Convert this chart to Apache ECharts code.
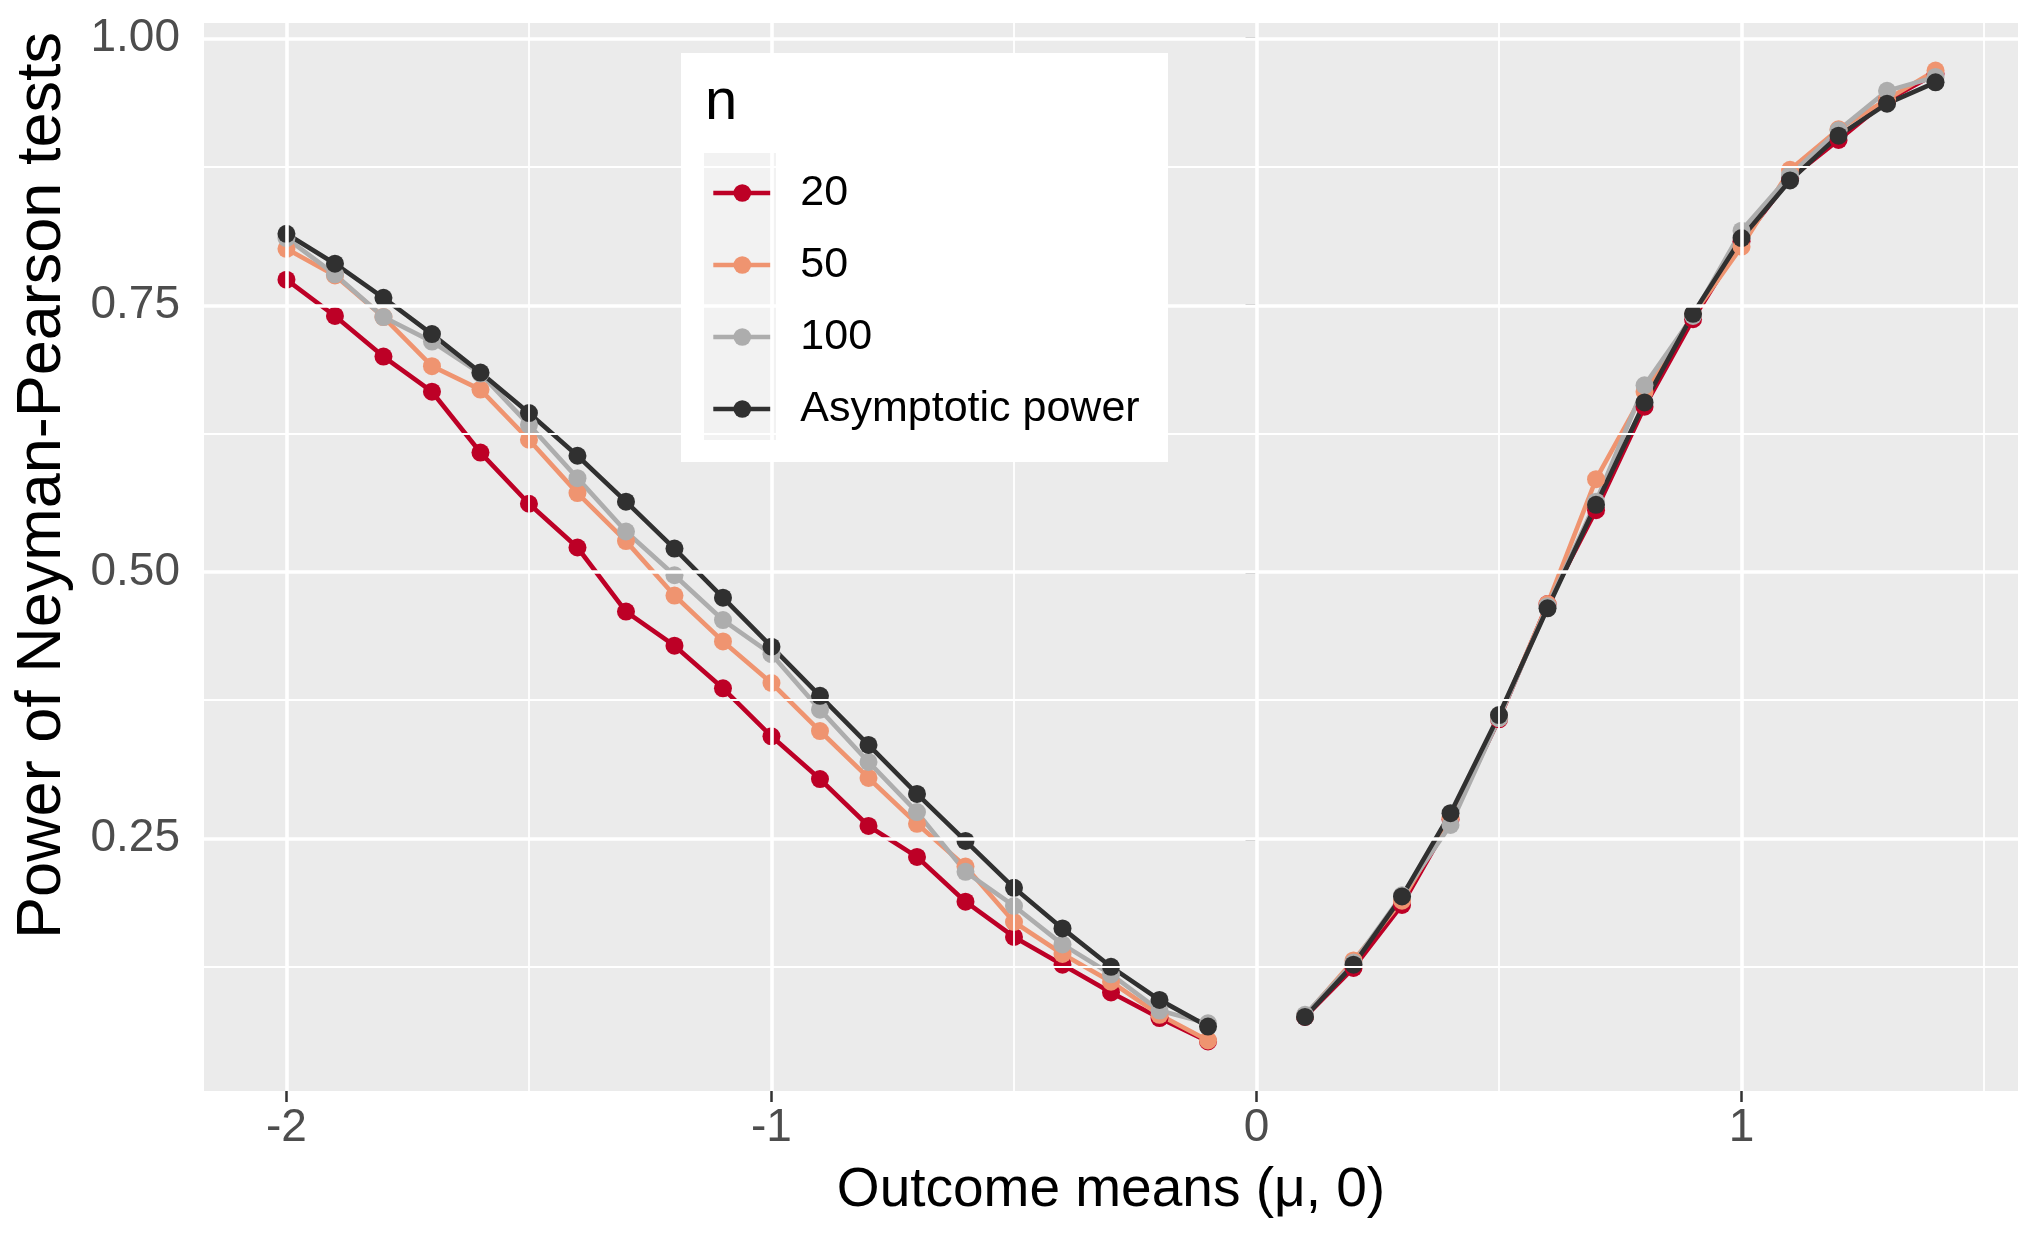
<!DOCTYPE html>
<html>
<head>
<meta charset="utf-8">
<script src="https://cdn.jsdelivr.net/npm/echarts@6/dist/echarts.min.js"></script>
<style>
  html, body { margin: 0; padding: 0; background: #fff; }
  #chart { width: 2031px; height: 1255px; }
</style>
</head>
<body>
<div id="chart"></div>
<script>
"use strict";

// x positions (outcome mean mu); the gap at 0 is kept as a break in each line
var mu = [-2, -1.9, -1.8, -1.7, -1.6, -1.5, -1.4, -1.3, -1.2, -1.1,
  -1, -0.9, -0.8, -0.7, -0.6, -0.5, -0.4, -0.3, -0.2, -0.1,
  0.1, 0.2, 0.3, 0.4, 0.5, 0.6, 0.7, 0.8, 0.9, 1, 1.1, 1.2, 1.3, 1.4];

var power20 = [0.774, 0.740, 0.702, 0.669, 0.612, 0.564, 0.523, 0.463, 0.431, 0.391,
  0.346, 0.306, 0.262, 0.233, 0.191, 0.158, 0.132, 0.106, 0.082, 0.060,
  0.083, 0.129, 0.188, 0.268, 0.362, 0.470, 0.558, 0.655, 0.737, 0.810, 0.869, 0.905, 0.942, 0.967];

var power50 = [0.803, 0.778, 0.739, 0.693, 0.671, 0.624, 0.574, 0.529, 0.478, 0.435,
  0.396, 0.351, 0.307, 0.264, 0.224, 0.172, 0.142, 0.116, 0.085, 0.061,
  0.084, 0.136, 0.192, 0.270, 0.363, 0.470, 0.587, 0.669, 0.741, 0.805, 0.877, 0.915, 0.943, 0.970];

var power100 = [0.813, 0.779, 0.739, 0.716, 0.686, 0.638, 0.588, 0.538, 0.497, 0.455,
  0.423, 0.371, 0.322, 0.275, 0.219, 0.187, 0.151, 0.123, 0.089, 0.077,
  0.085, 0.134, 0.197, 0.263, 0.363, 0.468, 0.566, 0.675, 0.740, 0.820, 0.872, 0.914, 0.951, 0.964];

var powerAsym = [0.817, 0.789, 0.757, 0.723, 0.687, 0.649, 0.609, 0.566, 0.522, 0.476,
  0.430, 0.384, 0.338, 0.292, 0.248, 0.204, 0.166, 0.130, 0.099, 0.074,
  0.083, 0.132, 0.196, 0.274, 0.366, 0.466, 0.563, 0.659, 0.742, 0.813, 0.867, 0.909, 0.939, 0.959];

var seriesNames = ["20", "50", "100", "Asymptotic power"];
var seriesColors = ["#BD0026", "#EF9470", "#ADADAD", "#303030"];

var xTicks = [-2, -1, 0, 1];
var xMinor = [-1.5, -0.5, 0.5, 1.5];
var yTicks = [0.25, 0.5, 0.75, 1.0];
var yMinor = [0.125, 0.375, 0.625, 0.875];

var FONT = "'Liberation Sans', Arial, Helvetica, sans-serif";

//pair up mu with values and break the line at mu = 0
function toPairs(vals) {
  var out = [];
  for (var i = 0; i < mu.length; i++) {
    if (i > 0 && mu[i - 1] < 0 && mu[i] > 0) {
      out.push([0, "-"]);
    }
    out.push([mu[i], vals[i]]);
  }
  return out;
}

var allPower = [power20, power50, power100, powerAsym];

//white panel grid, major and minor
var gridLines = [];
xTicks.forEach(function (v) {
  gridLines.push({ xAxis: v, lineStyle: { width: 3.6 } });
});
xMinor.forEach(function (v) {
  gridLines.push({ xAxis: v, lineStyle: { width: 1.8 } });
});
yTicks.forEach(function (v) {
  gridLines.push({ yAxis: v, lineStyle: { width: 3.6 } });
});
yMinor.forEach(function (v) {
  gridLines.push({ yAxis: v, lineStyle: { width: 1.8 } });
});

var series = [
  {
    type: "line",
    z: 1,
    silent: true,
    data: [],
    markLine: {
      silent: true,
      symbol: "none",
      label: { show: false },
      lineStyle: { color: "#ffffff", type: "solid" },
      emphasis: { disabled: true },
      data: gridLines,
      animation: false,
    },
  },
];

allPower.forEach(function (vals, k) {
  series.push({
    name: seriesNames[k],
    type: "line",
    z: 3,
    data: toPairs(vals),
    connectNulls: false,
    symbol: "circle",
    symbolSize: 18,
    showAllSymbol: true,
    lineStyle: { color: seriesColors[k], width: 4.6 },
    itemStyle: { color: seriesColors[k] },
    emphasis: { disabled: true },
  });
});

var chart = echarts.init(document.getElementById("chart"));

var option = {
  animation: false,
  backgroundColor: "#ffffff",
  textStyle: { fontFamily: FONT },
  grid: {
    left: 204,
    right: 13,
    top: 23,
    bottom: 164,
    outerBoundsMode: "none",
    containLabel: false,
    show: true,
    backgroundColor: "#EBEBEB",
    borderWidth: 0,
  },
  xAxis: {
    type: "value",
    min: -2.17,
    max: 1.57,
    name: "Outcome means (\u03bc, 0)",
    nameLocation: "middle",
    nameGap: 72,
    nameTextStyle: { fontSize: 55, color: "#000000", fontFamily: FONT },
    axisLine: { show: false },
    splitLine: { show: false },
    axisTick: {
      show: true,
      length: 11,
      customValues: xTicks,
      lineStyle: { color: "#333333", width: 2.5 },
    },
    axisLabel: {
      customValues: xTicks,
      fontSize: 46,
      color: "#4D4D4D",
      margin: 14,
      fontFamily: FONT,
    },
  },
  yAxis: {
    type: "value",
    min: 0.0136,
    max: 1.0146,
    name: "Power of Neyman-Pearson tests",
    nameLocation: "middle",
    nameGap: 130,
    nameTextStyle: {
      fontSize: 63,
      color: "#000000",
      fontFamily: FONT,
      padding: [0, 0, 0, 143],
    },
    axisLine: { show: false },
    splitLine: { show: false },
    axisTick: {
      show: true,
      length: 11,
      customValues: yTicks,
      lineStyle: { color: "#333333", width: 2.5 },
    },
    axisLabel: {
      customValues: yTicks,
      fontSize: 46,
      color: "#4D4D4D",
      margin: 24,
      fontFamily: FONT,
      formatter: function (v) {
        return v.toFixed(2);
      },
    },
  },
  legend: {
    data: seriesNames,
    orient: "vertical",
    left: 706,
    top: 162,
    itemWidth: 58,
    itemHeight: 22,
    itemGap: 20,
    selectedMode: false,
    z: 4,
    lineStyle: { width: 4.6 },
    itemStyle: { borderWidth: 0 },
    textStyle: {
      fontSize: 43,
      lineHeight: 52,
      color: "#000000",
      fontFamily: FONT,
      padding: [0, 0, 0, 24],
    },
  },
  graphic: [
    {
      type: "rect",
      z: 2,
      shape: { x: 681, y: 53, width: 487, height: 409 },
      style: { fill: "#ffffff" },
      silent: true,
    },
    {
      type: "rect",
      z: 2,
      shape: { x: 704, y: 153, width: 72, height: 287 },
      style: { fill: "#F2F2F2" },
      silent: true,
    },
    {
      type: "text",
      z: 4,
      x: 705,
      y: 103,
      style: {
        text: "n",
        font: "58px " + FONT,
        fill: "#000000",
        verticalAlign: "middle",
      },
      silent: true,
    },
  ],
  series: series,
};

option && chart.setOption(option);
</script>
</body>
</html>
